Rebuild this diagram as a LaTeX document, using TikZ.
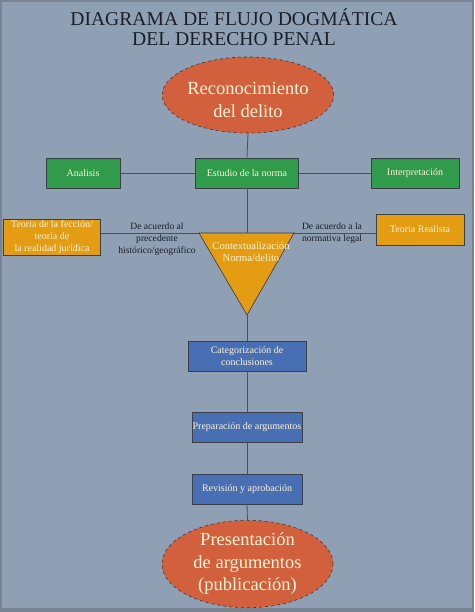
\documentclass[tikz,border=0pt]{standalone}
\usepackage{fontspec}
\setmainfont{Liberation Serif}
\usetikzlibrary{shapes.geometric}
\definecolor{bg}{RGB}{143,160,180}
\definecolor{frame}{RGB}{120,132,148}
\definecolor{grn}{RGB}{48,155,75}
\definecolor{org}{RGB}{228,156,18}
\definecolor{blu}{RGB}{72,110,180}
\definecolor{ell}{RGB}{210,96,60}
\definecolor{cream}{RGB}{255,244,214}
\definecolor{ln}{RGB}{72,80,92}
\definecolor{ink}{RGB}{25,30,40}
\tikzset{
  box/.style={draw=ln!80!black, line width=0.6pt, inner sep=0.5pt, align=center, text=cream, font=\fontsize{10}{12}\selectfont},
  gbox/.style={box, fill=grn},
  obox/.style={box, fill=org},
  bbox/.style={box, fill=blu},
  oval/.style={ellipse, draw=ln!70!black, dashed, line width=0.6pt, fill=ell, text=cream, align=center, inner sep=0pt, minimum width=171pt, minimum height=76pt, font=\fontsize{18.5}{22.5}\selectfont},
  conn/.style={draw=ln, line width=0.8pt},
  lbl/.style={align=center, text=ink, font=\fontsize{9.6}{11.8}\selectfont, inner sep=0pt}
}
\begin{document}
\begin{tikzpicture}[x=1pt,y=-1pt]
\useasboundingbox (0,0) rectangle (474,612);
\fill[frame] (0,0) rectangle (474,612);
\fill[bg] (2,2) rectangle (472,608);
\node[text=ink, align=center, font=\fontsize{19.6}{20}\selectfont, inner sep=0pt] (title) at (234,27) {DIAGRAMA DE FLUJO DOGMÁTICA\\DEL DERECHO PENAL};
\node[oval] (top) at (248,95) {\raisebox{-10.5pt}[0pt][0pt]{\begin{tabular}{@{}c@{}}Reconocimiento\\[0.5pt]del delito\end{tabular}}};
\node[gbox, minimum width=74pt, minimum height=30pt] (ana) at (83,173) {Analisis};
\node[gbox, minimum width=103pt, minimum height=30pt] (est) at (247,173) {Estudio de la norma};
\node[gbox, minimum width=88pt, minimum height=30pt] (int) at (415,173) {Interpretación};
\node[obox, minimum width=97pt, minimum height=36pt] (lbox) at (52,237) {Teoria de la fección/\\teoria de\\la realidad jurídica};
\node[obox, minimum width=88pt, minimum height=31pt] (rbox) at (420,229.5) {Teoria Realista};
\coordinate (triL) at (199,233);
\coordinate (triR) at (294,233);
\coordinate (triT) at (247,233);
\coordinate (triB) at (247,315);
\fill[org, draw=ln!70!black, line width=0.6pt] (triL) -- (triR) -- (triB) -- cycle;
\node[text=cream, align=center, font=\fontsize{10.6}{12}\selectfont, inner sep=0pt] (ctx) at (251,252) {Contextualización\\Norma/delito};
\node[lbl] (llbl) at (157,239) {De acuerdo al\\precedente\\histórico/geográfico};
\node[lbl] (rlbl) at (332,233) {De acuerdo a la\\normativa legal};
\node[bbox, minimum width=118pt, minimum height=30pt] (cat) at (247,356) {Categorización de\\conclusiones};
\node[bbox, minimum width=110pt, minimum height=30pt] (prep) at (247,427) {Preparación de argumentos};
\node[bbox, minimum width=110pt, minimum height=30pt] (rev) at (247,489) {Revisión y aprobación};
\node[oval] (bot) at (247.5,564) {Presentación\\de argumentos\\(publicación)};
\draw[conn] (top.south) -- (est.north);
\draw[conn] (ana.east) -- (est.west);
\draw[conn] (est.east) -- (int.west);
\draw[conn] (est.south) -- (triT);
\draw[conn] (triL -| lbox.east) -- (triL);
\draw[conn] (triR) -- (triR -| rbox.west);
\draw[conn] (triB) -- (cat.north);
\draw[conn] (cat.south) -- (prep.north);
\draw[conn] (prep.south) -- (rev.north);
\draw[conn] (rev.south) -- (bot.north);
\end{tikzpicture}
\end{document}
